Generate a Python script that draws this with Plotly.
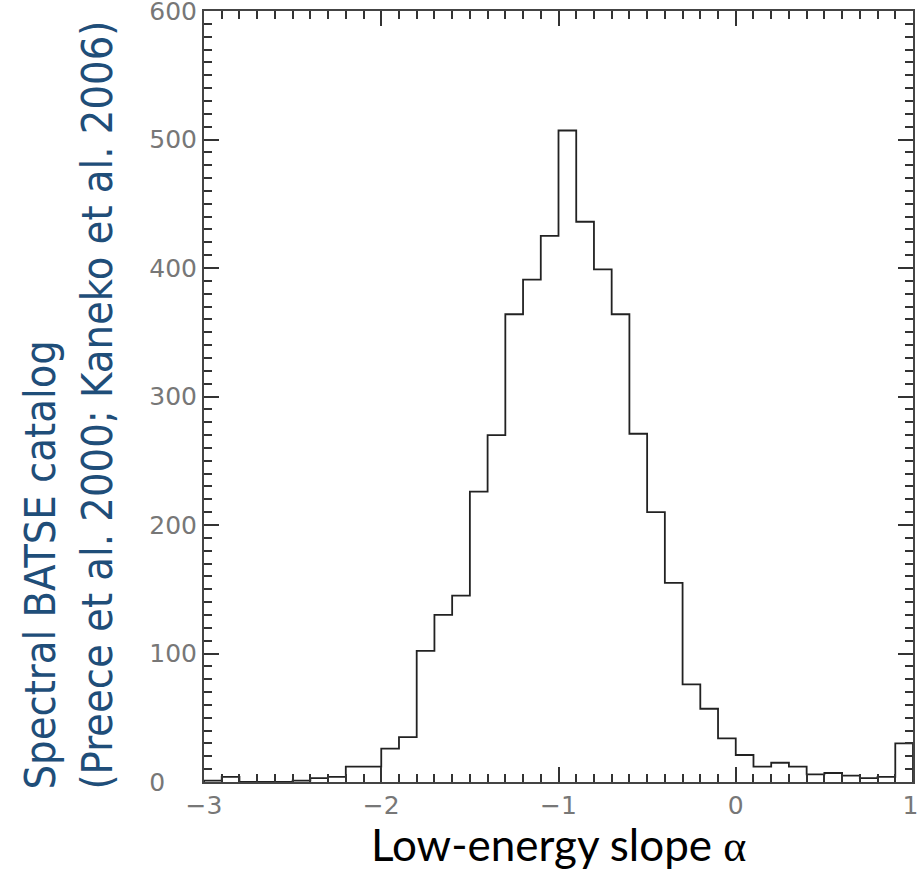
import plotly.graph_objects as go

# Histogram of low-energy slope alpha (bin width 0.1, from -3 to 1)
bin_left = [round(-3.0 + 0.1 * i, 1) for i in range(40)]
counts = [1, 4, 0, 0, 0, 1, 3, 4, 12, 12,
          26, 35, 102, 130, 145, 226, 270, 364, 391, 425,
          507, 436, 399, 364, 271, 210, 155, 76, 57, 34,
          21, 12, 15, 12, 6, 7, 5, 3, 4, 30]
bin_width = 0.1

x_tickvals = [-3, -2, -1, 0, 1]
x_ticktext = ["\u22123", "\u22122", "\u22121", "0", "1\u2009"]
y_tickvals = [0, 100, 200, 300, 400, 500, 600]
y_ticktext = ["0\u2007\u2007", "100", "200", "300", "400", "500", "600"]

x_title = "Low-energy slope <span style='font-family:Liberation Serif'>α</span>"
y_title_1 = "Spectral BATSE catalog"
y_title_2 = "(Preece et al. 2000; Kaneko et al. 2006)"

# step outline of the histogram built from the bins
step_x = [bin_left[0]]
step_y = [0]
for left, c in zip(bin_left, counts):
    step_x += [left, left + bin_width]
    step_y += [c, c]
step_x.append(bin_left[-1] + bin_width)
step_y.append(0)

fig = go.Figure()
fig.add_trace(go.Scatter(
    x=step_x, y=step_y, mode="lines",
    line=dict(color="#222222", width=1.8),
    showlegend=False, hoverinfo="skip", cliponaxis=True,
))

tick_font = dict(family="DejaVu Sans", size=25, color="#777777")
fig.update_layout(
    width=917, height=875,
    margin=dict(l=204, r=4, t=11, b=93, autoexpand=False),
    plot_bgcolor="white", paper_bgcolor="white",
    xaxis=dict(
        range=[-3, 1], tickvals=x_tickvals, ticktext=x_ticktext, ticks="inside", ticklen=15,
        tickwidth=1.5, tickcolor="#333333",
        minor=dict(dtick=0.1, ticks="inside", ticklen=8, tickwidth=1.5, tickcolor="#333333", showgrid=False),
        showline=True, linecolor="#444444", linewidth=2, mirror="ticks",
        showgrid=False, zeroline=False, tickfont=tick_font,
        ticklabeloverflow="allow", automargin=False,
    ),
    yaxis=dict(
        range=[0, 600], tickvals=y_tickvals, ticktext=y_ticktext, ticks="inside", ticklen=15,
        tickwidth=1.5, tickcolor="#333333",
        minor=dict(dtick=10, ticks="inside", ticklen=8, tickwidth=1.5, tickcolor="#333333", showgrid=False),
        showline=True, linecolor="#444444", linewidth=2, mirror="ticks",
        showgrid=False, zeroline=False, tickfont=tick_font,
        ticklabeloverflow="allow", automargin=False,
    ),
)

fig.add_annotation(
    text=x_title, xref="paper", yref="paper", x=0.5, y=-0.081,
    xanchor="center", yanchor="middle", showarrow=False,
    font=dict(family="Lato", size=44, color="black"),
)
title_font = dict(family="DejaVu Sans Condensed, Liberation Sans Narrow, Roboto", size=43, color="#1f4e79")
fig.add_annotation(
    text=y_title_1, xref="paper", yref="paper", x=(39 - 204) / 709, y=(782 - 792) / 771,
    xanchor="center", yanchor="bottom", textangle=-90, showarrow=False,
    font=title_font,
)
fig.add_annotation(
    text=y_title_2, xref="paper", yref="paper", x=(96 - 204) / 709, y=(782 - 792) / 771,
    xanchor="center", yanchor="bottom", textangle=-90, showarrow=False,
    font=title_font,
)

fig.write_html("out.html")
